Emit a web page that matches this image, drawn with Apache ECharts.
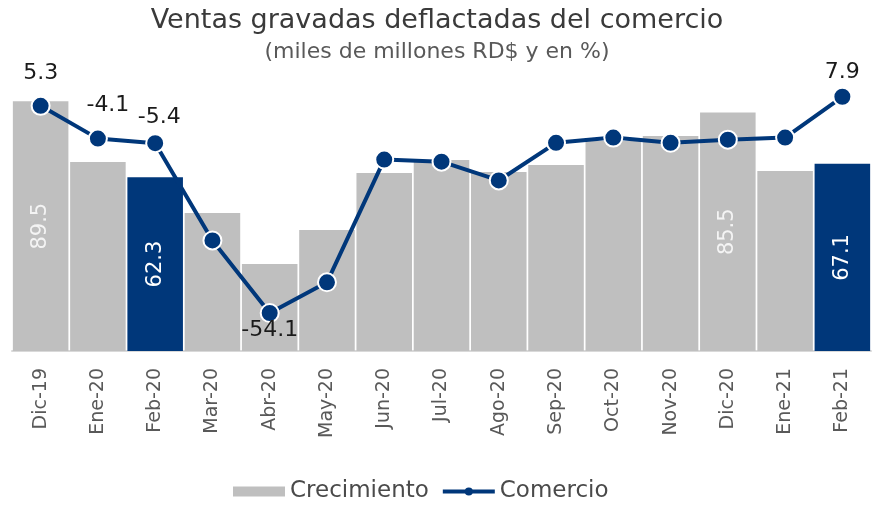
<!DOCTYPE html>
<html>
<head>
<meta charset="utf-8">
<script src="https://cdn.jsdelivr.net/npm/echarts@6/dist/echarts.min.js"></script>
<style>
  html, body { margin: 0; padding: 0; background: #fff; }
  #chart { width: 874px; height: 506px; }
</style>
</head>
<body>
<div id="chart"></div>
<script>
const months = ["Dic-19", "Ene-20", "Feb-20", "Mar-20", "Abr-20", "May-20", "Jun-20", "Jul-20",
  "Ago-20", "Sep-20", "Oct-20", "Nov-20", "Dic-20", "Ene-21", "Feb-21"];
const crecimiento = [89.5, 67.7, 62.3, 49.5, 31.2, 43.4, 63.8, 68.5, 64.2, 66.7, 75.3, 77.1, 85.5, 64.5, 67.1];
const comercio = [5.3, -4.1, -5.4, -33.3, -54.1, -45.3, -10.1, -10.7, -16.1, -5.3, -3.8, -5.3, -4.4, -3.8, 7.9];
const barLabelIdx = [0, 2, 12, 14];
const highlightIdx = [2, 14];
const lineLabelIdx = [0, 1, 2, 4, 14];

const NAVY = "#00377a";
const GREY = "#bfbfbf";
const FONT = "DejaVu Sans";

// label placement tweaks for the line points
const lineLabelStyle = {
  0: { position: "top", distance: 12 },
  1: { position: "top", distance: 12, offset: [10, 0] },
  2: { position: "top", distance: 5, offset: [4, 0] },
  4: { position: "bottom", distance: 0, offset: [0, -4] },
  14: { position: "top", distance: 3 },
};

const chart = echarts.init(document.getElementById("chart"));

chart.setOption({
  backgroundColor: "#fff",
  animation: false,
  title: {
    text: "Ventas gravadas deflactadas del comercio",
    subtext: "(miles de millones RD$ y en %)",
    left: "center",
    top: 2,
    itemGap: 7,
    textStyle: { fontFamily: FONT, fontSize: 27, fontWeight: "normal", color: "#3a3a3a" },
    subtextStyle: { fontFamily: FONT, fontSize: 22, color: "#595959" },
  },
  legend: {
    bottom: -2,
    left: 228,
    itemGap: 12,
    itemWidth: 52,
    itemHeight: 10,
    textStyle: { fontFamily: FONT, fontSize: 23, color: "#4a4a4a" },
    data: [
      { name: "Crecimiento", icon: "rect", itemStyle: { color: GREY } },
      { name: "Comercio", lineStyle: { width: 4, color: NAVY }, itemStyle: { color: NAVY, borderWidth: 0 } },
    ],
  },
  grid: { left: 12, right: 3, top: 72, bottom: 155 },
  xAxis: {
    type: "category",
    data: months,
    axisTick: { show: false },
    axisLine: { lineStyle: { color: "#d9d9d9", width: 2 } },
    axisLabel: {
      rotate: 90,
      margin: 17,
      fontFamily: FONT,
      fontSize: 19,
      color: "#595959",
    },
  },
  yAxis: [
    { type: "value", min: 0, max: 100, show: false },
    { type: "value", min: -65, max: 15, show: false },
  ],
  series: [
    {
      name: "Crecimiento",
      type: "bar",
      barCategoryGap: "3%",
      yAxisIndex: 0,
      data: crecimiento.map((v, i) => ({
        value: v,
        itemStyle: { color: highlightIdx.includes(i) ? NAVY : GREY },
        label: {
          show: barLabelIdx.includes(i),
          position: "inside",
          rotate: 90,
          fontFamily: FONT,
          fontSize: 21,
          color: highlightIdx.includes(i) ? "#ffffff" : "#f4f4f4",
          formatter: (p) => p.value.toFixed(1),
        },
      })),
      itemStyle: { color: GREY },
    },
    {
      name: "Comercio",
      type: "line",
      yAxisIndex: 1,
      symbol: "circle",
      symbolSize: 18,
      lineStyle: { color: NAVY, width: 4 },
      itemStyle: { color: NAVY, borderColor: "#fff", borderWidth: 2 },
      data: comercio.map((v, i) => ({
        value: v,
        label: lineLabelIdx.includes(i)
          ? Object.assign({
              show: true,
              fontFamily: FONT,
              fontSize: 22,
              color: "#1a1a1a",
              formatter: (p) => p.value.toFixed(1),
            }, lineLabelStyle[i])
          : { show: false },
      })),
      z: 5,
    },
  ],
});
</script>
</body>
</html>
